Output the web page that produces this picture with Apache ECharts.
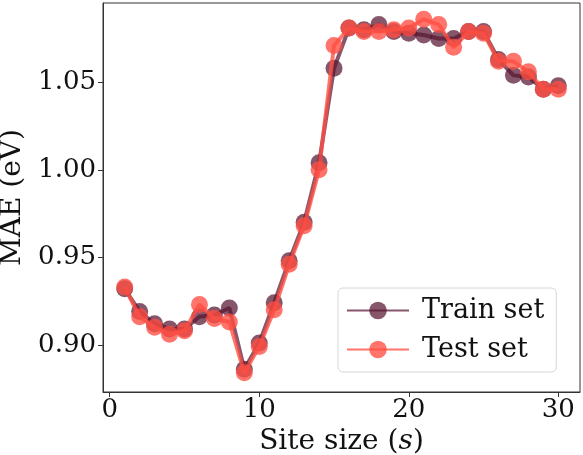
<!DOCTYPE html>
<html>
<head>
<meta charset="utf-8">
<script src="https://cdn.jsdelivr.net/npm/echarts@6/dist/echarts.min.js"></script>
<style>
  html, body { margin: 0; padding: 0; background: #fff; }
  #main { width: 583px; height: 455px; }
</style>
</head>
<body>
<div id="main"></div>
<script>
// site size s = 1..30
var siteSizes = [1,2,3,4,5,6,7,8,9,10,11,12,13,14,15,16,17,18,19,20,21,22,23,24,25,26,27,28,29,30];
var trainMAE = [0.932,0.919,0.912,0.909,0.909,0.916,0.917,0.921,0.886,0.901,
                0.924,0.948,0.970,1.004,1.058,1.081,1.080,1.083,1.079,1.078,
                1.077,1.075,1.075,1.079,1.079,1.063,1.054,1.053,1.046,1.048];
var testMAE = [0.933,0.916,0.910,0.906,0.908,0.923,0.915,0.913,0.884,0.899,
               0.920,0.946,0.968,1.000,1.071,1.081,1.079,1.079,1.080,1.081,
               1.086,1.083,1.070,1.079,1.078,1.062,1.062,1.056,1.046,1.046];
var xTicks = [0, 10, 20, 30];
var yTicks = [0.90, 0.95, 1.00, 1.05];

function pairs(ys) {
    return siteSizes.map(function (s, i) { return [s, ys[i]]; });
}

var trainColor = 'rgba(88,22,48,0.72)';
var testColor = 'rgba(255,78,66,0.78)';
var font = 'DejaVu Serif';

var myChart = echarts.init(document.getElementById('main'));

var option = {
    animation: false,
    grid: {
        left: 103, right: 3, top: 3, bottom: 63,
        outerBoundsMode: 'none',
        containLabel: false,
        show: true, borderColor: '#333', borderWidth: 1
    },
    legend: {
        orient: 'vertical',
        left: 338, top: 288,
        padding: [9, 12, 9, 8],
        itemGap: 12,
        itemWidth: 62,
        itemHeight: 22,
        borderColor: '#d6d6d6',
        borderWidth: 1,
        borderRadius: 5,
        textStyle: { fontFamily: font, fontSize: 27, color: '#111', padding: [0, 0, 0, 8] },
        data: ['Train set', 'Test set']
    },
    xAxis: {
        type: 'value',
        min: -0.45, max: 31.45,
        name: '{n|Site size (}{i|s}{n|)}',
        nameLocation: 'middle',
        nameGap: 33,
        nameTextStyle: {
            rich: {
                n: { fontFamily: font, fontSize: 28, color: '#111' },
                i: { fontFamily: font, fontSize: 28, fontStyle: 'italic', color: '#111' }
            }
        },
        splitLine: { show: false },
        axisLine: { show: true, onZero: false, lineStyle: { color: '#333', width: 1 } },
        axisTick: { show: true, length: 5, customValues: xTicks, lineStyle: { color: '#333' } },
        axisLabel: {
            customValues: xTicks,
            fontFamily: font, fontSize: 26, color: '#111', margin: 5
        }
    },
    yAxis: {
        type: 'value',
        min: 0.873, max: 1.0953,
        name: 'MAE (eV)',
        nameLocation: 'middle',
        nameGap: 65,
        nameTextStyle: { fontFamily: font, fontSize: 28, color: '#111' },
        splitLine: { show: false },
        axisLine: { show: true, onZero: false, lineStyle: { color: '#333', width: 1 } },
        axisTick: { show: true, length: 5, customValues: yTicks, lineStyle: { color: '#333' } },
        axisLabel: {
            customValues: yTicks,
            fontFamily: font, fontSize: 26, color: '#111', margin: 7,
            formatter: function (v) { return v.toFixed(2); }
        }
    },
    series: [
        {
            name: 'Train set',
            type: 'line',
            data: pairs(trainMAE),
            symbol: 'circle',
            symbolSize: 17,
            itemStyle: { color: trainColor },
            lineStyle: { color: trainColor, width: 4 },
            z: 2
        },
        {
            name: 'Test set',
            type: 'line',
            data: pairs(testMAE),
            symbol: 'circle',
            symbolSize: 17,
            itemStyle: { color: testColor },
            lineStyle: { color: testColor, width: 4 },
            z: 3
        }
    ]
};

myChart.setOption(option);
</script>
</body>
</html>
